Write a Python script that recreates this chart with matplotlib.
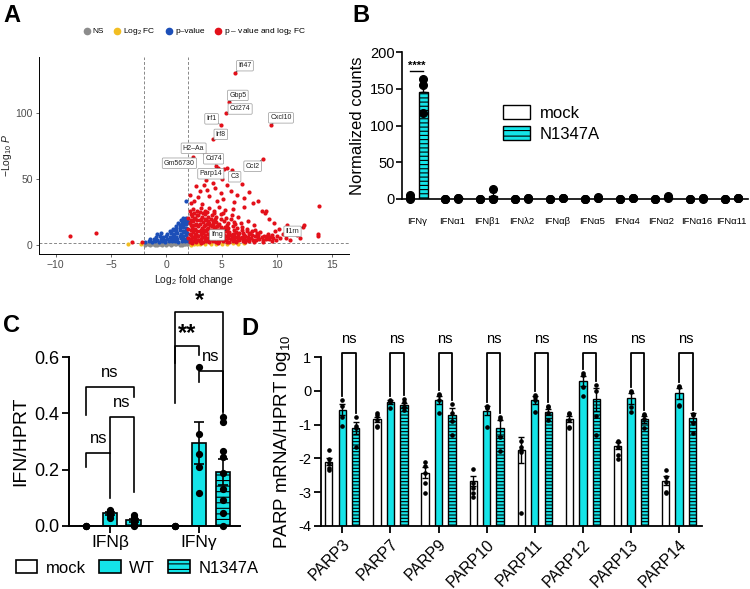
import numpy as np
import matplotlib

matplotlib.use("Agg")
import matplotlib.pyplot as plt
from matplotlib.patches import Patch
from matplotlib.lines import Line2D

plt.rcParams["font.family"] = ["Liberation Sans", "DejaVu Sans"]
plt.rcParams["mathtext.fontset"] = "custom"
plt.rcParams["mathtext.rm"] = "Liberation Sans"
plt.rcParams["mathtext.it"] = "Liberation Sans:italic"
plt.rcParams["hatch.linewidth"] = 0.8

CYAN = "#14E4E8"

# ---------------- panel A: volcano ----------------
ns_pts = [(-1.9, 0.2), (-1.7, 0.5), (-1.5, 0.3), (-1.3, 0.7), (-1.1, 0.4), (-0.9, 0.9),
          (-0.7, 0.5), (-0.5, 1.1), (-0.3, 0.6), (-0.1, 1.2), (0.1, 0.4), (0.3, 1.0),
          (0.5, 0.7), (0.7, 1.3), (0.9, 0.5), (1.1, 1.2), (1.3, 0.8), (1.5, 1.4),
          (1.7, 0.6), (1.9, 1.1), (-1.6, 1.0), (-1.2, 1.2), (-0.8, 0.2), (-0.4, 0.3),
          (0.0, 0.8), (0.4, 0.2), (0.8, 0.9), (1.2, 0.3), (1.6, 1.0), (0.2, 1.5),
          (-0.2, 1.4), (0.6, 1.5), (1.0, 1.5), (1.4, 0.2), (1.8, 1.5), (-1.0, 0.1),
          (0.0, 0.1), (-0.6, 0.8), (1.95, 0.4)]
fc_pts = [(-3.5, 0.5), (-2.3, 0.6), (2.5, 0.8), (3.0, 1.0), (3.5, 0.6), (4.0, 0.9),
          (4.5, 1.1), (5.0, 0.7), (5.5, 1.0), (6.0, 1.2), (6.5, 0.9), (7.0, 1.2),
          (2.2, 0.3), (2.8, 0.4)]
p_pts = [(-1.9, 2.5), (-1.6, 2.8), (-1.3, 2.4), (-1.0, 3.0), (-0.7, 2.6), (-0.4, 2.9),
         (-0.1, 2.5), (0.2, 3.1), (0.5, 2.7), (0.8, 3.2), (1.1, 2.6), (1.4, 3.0),
         (1.7, 2.7), (1.95, 3.3), (-1.5, 4.2), (-1.1, 4.8), (-0.8, 4.0), (-0.5, 4.6),
         (-0.2, 4.1), (0.1, 4.7), (0.4, 4.3), (0.7, 5.0), (1.0, 4.4), (1.3, 5.2),
         (1.6, 4.6), (1.9, 5.4), (-0.9, 6.2), (-0.6, 6.8), (-0.3, 6.0), (0.0, 6.6),
         (0.3, 6.3), (0.6, 7.0), (0.9, 6.4), (1.2, 7.2), (1.5, 6.7), (1.8, 7.4),
         (-0.8, 8.3), (-0.5, 8.8), (0.1, 8.2), (0.4, 9.0), (0.7, 8.5), (1.0, 9.3),
         (1.3, 8.7), (1.6, 9.6), (1.9, 9.0), (0.3, 10.4), (0.6, 11.0), (0.9, 10.6),
         (1.2, 11.4), (1.5, 10.8), (1.8, 11.6), (0.6, 12.4), (0.9, 13.0), (1.2, 12.6),
         (1.5, 13.4), (1.8, 12.8), (0.9, 14.6), (1.2, 15.2), (1.5, 14.4), (1.8, 15.6),
         (1.1, 16.4), (1.4, 17.0), (1.7, 16.6), (1.95, 17.4), (1.3, 18.6), (1.6, 19.2),
         (1.9, 18.8), (1.5, 20.2), (1.8, 20.8), (1.75, 33.0)]
both_pts = [(2.1, 2.3), (2.4, 3.1), (2.7, 2.6), (3.0, 3.4), (3.3, 2.4), (3.6, 3.0),
            (3.9, 2.7), (4.2, 3.3), (4.5, 2.5), (4.8, 3.1), (5.1, 2.8), (5.4, 3.5),
            (5.7, 2.6), (6.0, 3.2), (6.3, 2.9), (6.6, 3.6), (6.9, 3.0), (7.2, 3.8),
            (7.5, 3.3), (7.8, 4.1), (8.1, 3.6), (8.4, 4.4), (8.7, 3.9), (9.0, 4.6),
            (9.3, 4.2), (9.6, 5.0), (9.9, 4.0), (10.3, 5.2),
            (2.3, 1.8), (3.1, 1.9), (3.9, 2.0), (4.7, 1.9), (5.5, 2.0), (6.3, 2.1),
            (7.1, 2.2), (7.9, 2.3), (8.7, 2.5), (9.5, 2.8),
            (2.25, 4.3), (2.55, 4.6), (2.85, 4.1), (3.15, 4.8), (3.45, 4.4), (3.75, 4.9),
            (4.05, 4.2), (4.35, 4.7), (4.65, 4.3), (4.95, 4.9), (5.25, 4.4), (5.55, 5.0),
            (5.85, 4.5), (6.15, 5.1), (6.45, 4.6), (6.75, 5.0), (7.05, 4.8), (7.35, 5.3),
            (7.65, 5.6), (8.25, 5.5), (8.6, 6.0), (9.1, 6.5),
            (2.0, 5.5), (2.3, 6.2), (2.6, 5.2), (2.9, 6.6), (3.2, 5.7), (3.5, 6.4),
            (3.8, 5.4), (4.1, 6.8), (4.4, 5.9), (4.7, 6.5), (5.0, 5.6), (5.3, 7.0),
            (5.6, 6.1), (5.9, 6.7), (6.2, 5.8), (6.5, 7.2), (6.8, 6.0), (7.1, 6.9),
            (7.4, 6.3), (7.7, 7.4), (8.0, 6.6), (8.3, 7.6), (8.8, 7.1), (9.2, 8.0),
            (9.5, 7.3),
            (2.25, 7.4), (2.55, 7.9), (2.85, 7.2), (3.15, 8.0), (3.45, 7.5), (3.75, 8.2),
            (4.05, 7.6), (4.35, 8.1), (4.65, 7.8), (4.95, 8.3), (5.25, 7.7), (5.55, 8.4),
            (5.85, 7.9), (6.15, 8.0), (6.5, 8.4), (7.0, 7.9), (7.5, 8.6), (8.2, 9.0),
            (2.1, 8.6), (2.4, 9.8), (2.7, 8.2), (3.0, 10.4), (3.3, 9.1), (3.6, 10.9),
            (3.9, 8.7), (4.2, 10.2), (4.5, 9.4), (4.8, 11.0), (5.1, 8.9), (5.4, 10.6),
            (5.7, 9.6), (6.0, 8.5), (6.3, 10.1), (6.6, 9.3), (6.9, 8.8), (7.3, 10.5),
            (7.6, 9.0), (8.0, 11.2), (8.5, 9.8),
            (2.2, 11.0), (2.5, 11.4), (2.8, 10.8), (3.1, 11.6), (3.4, 11.2), (3.7, 11.8),
            (4.0, 11.3), (4.35, 11.9), (4.6, 11.5), (5.0, 11.7), (5.5, 11.3), (6.1, 11.6),
            (6.8, 11.0), (7.7, 10.3),
            (2.0, 12.5), (2.3, 13.8), (2.6, 12.1), (2.9, 14.6), (3.2, 13.0), (3.5, 15.1),
            (3.8, 12.6), (4.1, 14.2), (4.4, 13.3), (4.7, 15.0), (5.0, 12.4), (5.3, 14.0),
            (5.6, 12.9), (6.0, 14.5), (6.4, 12.7), (6.8, 13.9), (7.3, 12.2), (7.9, 14.8),
            (2.2, 14.9), (2.5, 15.3), (2.8, 14.8), (3.05, 15.6), (3.4, 14.4), (3.65, 15.9),
            (3.95, 14.9), (4.25, 15.7), (4.55, 14.6), (4.9, 13.9), (5.5, 15.4), (6.2, 15.9),
            (2.1, 16.4), (2.4, 17.9), (2.7, 16.2), (3.0, 18.6), (3.3, 17.1), (3.6, 19.0),
            (3.9, 16.6), (4.2, 18.3), (4.5, 17.2), (4.8, 16.1), (5.2, 18.5), (5.6, 16.8),
            (6.1, 17.7), (6.7, 16.3), (7.4, 18.2),
            (2.2, 19.0), (2.5, 19.6), (2.8, 18.9), (3.1, 20.0), (3.45, 19.4), (3.75, 18.0),
            (4.0, 19.8), (4.4, 19.5), (4.95, 19.8), (5.8, 19.4),
            (2.0, 20.6), (2.3, 22.0), (2.6, 20.3), (2.9, 23.1), (3.2, 21.2), (3.5, 23.8),
            (3.8, 20.9), (4.1, 22.5), (4.5, 21.0), (4.9, 23.4), (5.4, 20.7), (5.9, 22.6),
            (6.5, 21.5),
            (2.2, 23.5), (2.5, 24.0), (2.75, 23.0), (3.05, 25.0), (3.35, 24.5), (3.7, 25.2),
            (4.3, 24.0), (5.1, 24.5),
            (2.1, 25.4), (2.4, 27.2), (2.8, 25.9), (3.1, 28.3), (3.5, 26.1), (3.9, 27.8),
            (4.3, 25.6), (4.8, 28.9), (5.3, 26.4), (6.0, 27.5), (7.0, 29.0),
            (2.1, 38.0), (2.5, 33.5), (2.9, 36.2), (3.2, 31.0), (3.4, 45.5), (3.7, 41.8),
            (3.9, 37.4), (4.2, 47.0), (4.4, 43.0), (4.6, 33.0), (4.9, 39.5), (5.1, 35.0),
            (5.5, 45.5), (5.8, 41.0), (6.1, 32.5), (6.4, 38.2), (6.8, 46.5), (7.0, 35.5),
            (7.5, 40.5), (7.8, 31.5), (8.3, 33.0), (8.6, 25.5), (8.9, 24.0), (9.0, 26.0),
            (9.3, 19.5), (9.7, 17.0), (3.0, 41.0), (2.7, 45.0), (5.0, 50.0), (4.0, 52.0),
            (3.6, 49.0), (5.2, 57.5), (5.5, 58.0), (2.2, 31.5),
            (9.8, 10.5), (10.2, 12.0), (10.5, 8.5), (10.8, 5.0), (10.9, 15.5), (11.4, 9.5),
            (11.8, 7.5), (12.1, 5.0), (12.4, 15.5), (11.2, 3.5), (13.7, 8.0), (13.7, 6.5),
            (13.8, 29.5), (10.0, 7.0), (9.4, 6.0),
            (-8.7, 6.6), (-6.35, 8.8), (-3.1, 2.1), (-2.2, 2.0)]
# labelled genes: name, log2FC, -log10 p, label offset (px right, px up)
gene_names = ["Ifi47", "Gbp5", "Cd274", "Irf1", "Cxcl10", "Irf8", "H2\u2013Aa", "Gm56730",
              "Cd74", "Parp14", "C3", "Ccl2", "Ifng", "Il1rn"]
gene_fc = [6.2, 5.65, 5.4, 4.9, 9.45, 4.2, 3.55, 2.45, 4.45, 4.65, 5.9, 8.7, 5.4, 12.3]
gene_p = [130.5, 108, 100, 91, 91, 80, 68, 66.5, 60, 58.5, 57, 65, 11.4, 13.4]
gene_off = [(10, 7), (9, 7), (14, 4), (-9, 6), (10, 7), (8, 5), (-12, 7), (-14, -6),
            (-2, 7), (-7, -6), (3, -7), (-10, -7), (-9, -5), (-10, -4)]

# ---------------- panel B ----------------
b_genes = ["IFN\u03b3", "IFN\u03b11", "IFN\u03b21", "IFN\u03bb2", "IFN\u03b1\u03b2",
           "IFN\u03b15", "IFN\u03b14", "IFN\u03b12", "IFN\u03b116", "IFN\u03b111"]
b_mock_pts = [[0, 1, 5], [0, 0.5, 0.5], [0, 0.5, 0.5], [0, 0.5, 0.5], [0, 0.5, 0.5],
              [0, 0.5, 0.5], [0, 0.5, 0.5], [0, 0.5, 0.5], [0, 0.5, 0.5], [0, 0.5, 0.5]]
b_mut_pts = [[163, 156, 117], [0.5, 1, 1], [13.5, 0, 0], [0.5, 1, 1], [1, 2, 1],
             [1, 2.5, 1], [1, 2, 1.5], [2, 4, 3], [0.5, 1, 1], [1, 2, 1.5]]

# ---------------- panel C ----------------
c_genes = ["IFN\u03b2", "IFN\u03b3"]
c_mock_pts = [[0, 0, 0], [0, 0, 0]]
c_wt_pts = [[0.056, 0.054, 0.044, 0.038, 0.026],
            [0.567, 0.325, 0.255, 0.21, 0.118]]
c_mut_pts = [[0.038, 0.032, 0.026, 0.02, 0.014, 0.002, 0.0],
             [0.389, 0.371, 0.267, 0.244, 0.187, 0.13, 0.09, 0.044, 0.0]]

# ---------------- panel D ----------------
d_genes = ["PARP3", "PARP7", "PARP9", "PARP10", "PARP11", "PARP12", "PARP13", "PARP14"]
d_mock = [-2.1, -0.84, -2.43, -2.67, -1.75, -0.83, -1.62, -2.66]
d_wt = [-0.55, -0.32, -0.27, -0.58, -0.27, 0.30, -0.22, -0.07]
d_mut = [-1.09, -0.42, -0.71, -1.10, -0.62, -0.25, -0.84, -0.79]
d_mock_pts = [[-1.75, -2.03, -2.15, -2.3, -2.35], [-0.66, -0.71, -0.86, -1.04, -1.06],
              [-2.1, -2.23, -2.45, -2.72, -3.02], [-2.33, -2.74, -2.89, -3.02, -3.14],
              [-1.49, -1.65, -1.75, -1.8, -3.63], [-0.66, -0.69, -0.86, -1.06, -1.11],
              [-1.49, -1.5, -1.65, -1.9, -2.03], [-2.35, -2.54, -2.69, -2.99, -3.04]]
d_wt_pts = [[-0.27, -0.45, -0.76, -1.04], [-0.32, -0.27, -0.51, -0.3],
            [-0.1, -0.12, -0.27, -0.66], [-0.45, -0.47, -1.06, -0.5],
            [-0.12, -0.17, -0.27, -0.62], [0.54, 0.47, 0.11, -0.14],
            [0.01, -0.02, -0.47, -0.61], [0.15, 0.13, -0.42, -0.45]]
d_mut_pts = [[-0.78, -1.04, -1.09, -1.65], [-0.25, -0.32, -0.47, -0.56],
             [-0.39, -0.66, -0.88, -1.31], [-0.76, -0.84, -1.36, -1.78],
             [-0.45, -0.47, -0.66, -0.86], [0.18, 0.01, -0.74, -1.31],
             [-0.69, -0.71, -0.84, -1.11], [-0.68, -0.71, -0.96, -1.26]]


def sem(v):
    v = np.asarray(v, float)
    return v.std(ddof=1) / np.sqrt(len(v))


W, H = 750, 589
fig = plt.figure(figsize=(W / 100, H / 100), dpi=100)


def px_axes(left, top, right, bottom):
    return fig.add_axes([left / W, 1 - bottom / H, (right - left) / W, (bottom - top) / H])


def clean(ax, lw=1.2):
    for s in ("top", "right"):
        ax.spines[s].set_visible(False)
    for s in ("left", "bottom"):
        ax.spines[s].set_linewidth(lw)


# ================= A =================
axA = px_axes(39, 57, 349, 254)
clean(axA, 0.7)
GREY_TXT = "#4D4D4D"
cols = {"NS": "#8C8C8C", "fc": "#F2BE22", "p": "#1C4FB8", "both": "#E3101A"}
for key, pts in (("NS", ns_pts), ("fc", fc_pts), ("p", p_pts), ("both", both_pts)):
    a = np.array(pts)
    axA.scatter(a[:, 0], a[:, 1], s=9, color=cols[key], lw=0, zorder=2)
axA.scatter(gene_fc, gene_p, s=9, color=cols["both"], lw=0, zorder=3)
for name, x, y, (dx, dy) in zip(gene_names, gene_fc, gene_p, gene_off):
    axA.annotate(name, (x, y), xytext=(dx * 0.72, dy * 0.72), textcoords="offset points",
                 ha="center", va="center", fontsize=5, color="#222222", zorder=4,
                 bbox=dict(boxstyle="round,pad=0.25,rounding_size=0.15", fc="white",
                           ec="#999999", lw=0.5),
                 arrowprops=dict(arrowstyle="-", color="#333333", lw=0.5, shrinkA=0, shrinkB=1))
for xv in (-2, 2):
    axA.axvline(xv, color="#888888", ls=(0, (3, 2)), lw=0.7, zorder=1)
axA.axhline(1.3, color="#888888", ls=(0, (3, 2)), lw=0.7, zorder=1)
axA.set_xlim(-11.5, 16.5)
axA.set_ylim(-6.8, 142.4)
axA.set_xticks([-10, -5, 0, 5, 10, 15])
axA.set_xticklabels(["\u221210", "\u22125", "0", "5", "10", "15"])
axA.set_yticks([0, 50, 100])
axA.tick_params(labelsize=7.5, colors=GREY_TXT, length=2.5, width=0.6, pad=2)
axA.set_xlabel(r"Log$_2$ fold change", fontsize=7.5, color="#222222", labelpad=2)
axA.set_ylabel(r"$-$Log$_{10}$ $\mathit{P}$", fontsize=7.5, color="#222222", labelpad=1)
legA = [Line2D([], [], marker="o", ls="", color=cols[k], markersize=4.5) for k in cols]
axA.legend(legA, ["NS", r"Log$_2$ FC", "p\u2013value", "p \u2013 value and log$_2$ FC"],
           loc="center", bbox_to_anchor=(0.5, 1.127), ncol=4, frameon=False, fontsize=6,
           handletextpad=0.1, columnspacing=1.0, handlelength=1.2)

# ================= B =================
axB = px_axes(401.7, 52.3, 748, 199)
clean(axB, 1.2)
xb = np.arange(len(b_genes))
off_b, wb = 0.19, 0.237
for pts_list, dx, face, hatch in ((b_mock_pts, -off_b, "white", None),
                                  (b_mut_pts, off_b, CYAN, "----")):
    means = [np.mean(p) for p in pts_list]
    errs = [sem(p) for p in pts_list]
    axB.bar(xb + dx, means, wb, color=face, edgecolor="black", lw=1.0, hatch=hatch, zorder=2)
    axB.errorbar(xb + dx, means, yerr=[np.zeros(len(errs)), errs], fmt="none", ecolor="black",
                 elinewidth=1.0, capsize=2.5, zorder=3)
    for i, p in enumerate(pts_list):
        axB.plot([xb[i] + dx] * len(p), p, "o", color="black", markersize=5.5, zorder=4,
                 clip_on=False)
axB.set_xlim(-0.43, 9.47)
axB.set_ylim(0, 200)
axB.set_yticks([0, 50, 100, 150, 200])
axB.set_xticks(xb)
axB.set_xticklabels(b_genes, fontsize=6.8)
axB.tick_params(axis="x", length=0, pad=13)
axB.tick_params(axis="y", labelsize=10.5, length=4, width=1.2, pad=1)
axB.set_ylabel("Normalized counts", fontsize=12, labelpad=4)
axB.plot([-off_b, off_b], [175, 175], color="black", lw=1.0, clip_on=False)
axB.text(0, 175, "****", ha="center", va="bottom", fontsize=8, fontweight="bold")
axB.legend([Patch(fc="white", ec="black", lw=1.0),
            Patch(fc=CYAN, ec="black", lw=1.0, hatch="---")], ["mock", "N1347A"],
           loc="upper left", bbox_to_anchor=(488 / W, 1 - 90 / H), bbox_transform=fig.transFigure,
           frameon=False, fontsize=12, handlelength=1.6, handleheight=0.9, handletextpad=0.6,
           labelspacing=0.35)

# ================= C =================
axC = px_axes(69.3, 357.3, 240, 525.7)
clean(axC, 1.4)
xc = np.arange(len(c_genes))
off_c, wc = 0.265, 0.16
for pts_list, dx, face, hatch in ((c_mock_pts, -off_c, "white", None),
                                  (c_wt_pts, 0, CYAN, None),
                                  (c_mut_pts, off_c, CYAN, "---")):
    means = [np.mean(p) for p in pts_list]
    errs = [sem(p) for p in pts_list]
    axC.bar(xc + dx, means, wc, color=face, edgecolor="black", lw=1.2, hatch=hatch, zorder=2)
    axC.errorbar(xc + dx, means, yerr=errs, fmt="none", ecolor="black", elinewidth=1.2,
                 capsize=3.5, capthick=1.2, zorder=3)
    for i, p in enumerate(pts_list):
        axC.plot([xc[i] + dx] * len(p), p, "o", color="black", markersize=4.2, zorder=4,
                 clip_on=False)
# significance brackets: x left, x right, top, left leg end, right leg end, label
c_brackets = [(-off_c, 0, 0.258, 0.21, 0.10, "ns"),
              (0, off_c, 0.389, 0.26, 0.12, "ns"),
              (-off_c, off_c, 0.493, 0.394, 0.457, "ns"),
              (1 - off_c, 1, 0.642, 0.579, 0.608, "**"),
              (1, 1 + off_c, 0.551, 0.513, 0.41, "ns"),
              (1 - off_c, 1 + off_c, 0.760, 0.436, 0.40, "*")]
for x0, x1, top, b0, b1, lab in c_brackets:
    axC.plot([x0, x0, x1, x1], [b0, top, top, b1], color="black", lw=1.2, clip_on=False)
    if lab == "ns":
        axC.text((x0 + x1) / 2, top + 0.025, lab, ha="center", va="bottom", fontsize=12)
    else:
        axC.text((x0 + x1) / 2, top + 0.0, lab, ha="center", va="bottom", fontsize=17,
                 fontweight="bold")
axC.set_xlim(-0.457, 1.46)
axC.set_ylim(0, 0.6)
axC.set_yticks([0, 0.2, 0.4, 0.6])
axC.set_yticklabels(["0.0", "0.2", "0.4", "0.6"])
axC.set_xticks(xc)
axC.set_xticklabels(c_genes)
axC.tick_params(labelsize=13, length=5, width=1.3, pad=2)
axC.tick_params(axis="x", labelsize=12.5)
axC.set_ylabel("IFN/HPRT", fontsize=14, labelpad=4)
fig.legend([Patch(fc="white", ec="black", lw=1.2), Patch(fc=CYAN, ec="black", lw=1.2),
            Patch(fc=CYAN, ec="black", lw=1.2, hatch="---")], ["mock", "WT", "N1347A"],
           loc="center", bbox_to_anchor=(137 / W, 1 - 568 / H), ncol=3, frameon=False,
           fontsize=12, handlelength=1.3, handleheight=0.8, handletextpad=0.5,
           columnspacing=0.8)

# ================= D =================
axD = px_axes(321, 357.3, 701.7, 525.7)
clean(axD, 1.3)
xd = np.arange(len(d_genes))
off_d, wd = 0.28, 0.152
for means, pts_list, dx, face, hatch in ((d_mock, d_mock_pts, -off_d, "white", None),
                                         (d_wt, d_wt_pts, 0, CYAN, None),
                                         (d_mut, d_mut_pts, off_d, CYAN, "-----")):
    means = np.asarray(means)
    heights = means + 4
    errs = [sem(p) for p in pts_list]
    axD.bar(xd + dx, heights, wd, bottom=-4, color=face, edgecolor="black", lw=1.0,
            hatch=hatch, zorder=2)
    axD.errorbar(xd + dx, means, yerr=errs, fmt="none", ecolor="black", elinewidth=1.0,
                 capsize=2.5, zorder=3)
    for i, p in enumerate(pts_list):
        axD.plot([xd[i] + dx] * len(p), p, "o", color="black", markersize=2.3, zorder=4)
for i in range(len(d_genes)):
    top = 1.14
    lb = max(d_wt_pts[i]) + 0.12
    rb = max(d_mut_pts[i]) + 0.12
    axD.plot([i, i, i + off_d, i + off_d], [lb, top, top, rb], color="black", lw=1.3,
             clip_on=False)
    axD.text(i + off_d / 2, top + 0.2, "ns", ha="center", va="bottom", fontsize=10.5)
axD.set_xlim(-0.443, 7.47)
axD.set_ylim(-4, 1)
axD.set_yticks([1, 0, -1, -2, -3, -4])
axD.set_yticklabels(["1", "0", "-1", "-2", "-3", "-4"])
axD.set_xticks(xd)
axD.set_xticklabels(d_genes, rotation=45, ha="right", rotation_mode="anchor")
axD.tick_params(labelsize=10.5, length=5, width=1.3, pad=2)
axD.tick_params(axis="x", labelsize=11.5, pad=3)
axD.set_ylabel(r"PARP mRNA/HPRT log$_{10}$", fontsize=13.5, labelpad=4)

# panel letters
for letter, x, y in (("A", 3, 4), ("B", 352, 4), ("C", 3, 314), ("D", 241, 317)):
    fig.text(x / W, 1 - y / H, letter, fontsize=17, fontweight="bold", ha="left", va="top")

fig.savefig("out.png", dpi=100)
